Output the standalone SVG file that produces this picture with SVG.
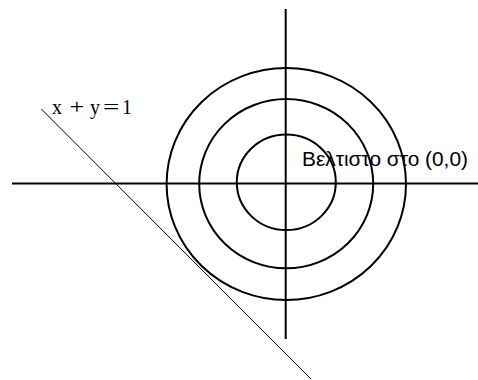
<svg xmlns="http://www.w3.org/2000/svg" width="478" height="380" viewBox="0 0 478 380">
<style>
.thick{fill:none;stroke:#000;stroke-width:2}
.thin{fill:none;stroke:#000;stroke-width:1}
.lbl{font-family:"Liberation Sans",Arial,sans-serif;font-size:20px;fill:#000}
.math{font-family:"Liberation Serif","Times New Roman",serif;font-size:20px;fill:#000}
</style>
<rect width="478" height="380" fill="#fff"/>
<g id="axes">
<line class="thick" x1="12" y1="183.5" x2="478" y2="183.5"/>
<line class="thick" x1="285.7" y1="9" x2="285.7" y2="339"/>
</g>
<g id="contours">
<ellipse class="thick" cx="286.3" cy="182.3" rx="49.5" ry="47.8"/>
<ellipse class="thick" cx="286.2" cy="183.7" rx="87" ry="84.6"/>
<ellipse class="thick" cx="286.3" cy="184" rx="119.7" ry="116"/>
</g>
<g id="constraint">
<line class="thin" x1="41.3" y1="109" x2="311" y2="379"/>
<g id="constraint-label">
<text class="math" x="52" y="113.5">x</text>
<text class="math" x="-0.3" y="0" transform="translate(70,113.5) scale(1.3,1)">+</text>
<text class="math" x="90" y="113.5">y</text>
<text class="math" x="-0.3" y="0" transform="translate(103.3,113.5) scale(1.45,1)">=</text>
<text class="math" x="122.1" y="113.5">1</text>
</g>
</g>
<g id="optimum">
<text class="lbl" x="302" y="166" textLength="166" lengthAdjust="spacingAndGlyphs">Βελτιστο στο (0,0)</text>
</g>
</svg>
